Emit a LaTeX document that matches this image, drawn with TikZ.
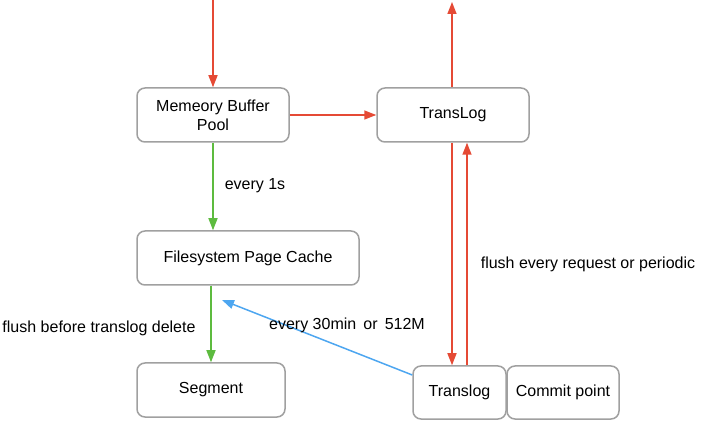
\documentclass[tikz,border=0pt]{standalone}
\usepackage{fontspec}
\setmainfont{Liberation Sans}
\usetikzlibrary{arrows.meta}
\definecolor{boxgray}{HTML}{A0A0A0}
\definecolor{myred}{HTML}{E54A35}
\definecolor{mygreen}{HTML}{5DBB3F}
\definecolor{myblue}{HTML}{4DA6F0}
\tikzset{
  box/.style={draw=boxgray, line width=1.5pt, rounded corners=8pt, fill=white, align=center, inner sep=0pt, font=\fontsize{16}{19}\selectfont},
  lbl/.style={font=\fontsize{16}{19}\selectfont, inner sep=0pt},
  arr/.style={line width=1.5pt, -{Triangle[length=12pt,width=9pt]}},
}
\begin{document}
\begin{tikzpicture}[x=1pt,y=-1pt]
\useasboundingbox (0,0) rectangle (705,422);
\node[box, minimum width=152pt, minimum height=54pt] (mem) at (213,115) {Memeory Buffer\\Pool};
\node[box, minimum width=152pt, minimum height=54pt] (tl) at (453,115) {TransLog};
\node[box, minimum width=222pt, minimum height=54pt] (fs) at (248,258) {Filesystem Page Cache};
\node[box, minimum width=148pt, minimum height=54pt] (seg) at (211,390) {Segment};
\node[box, minimum width=93pt, minimum height=53pt] (tls) at (459.5,392.5) {Translog};
\node[box, minimum width=112pt, minimum height=53pt] (cp) at (563,392.5) {Commit point};
\coordinate (top1) at (213,0);
\coordinate (top2) at (452,2);
\coordinate (bl) at (222,300);
\draw[arr, myred] (top1) -- (mem.north);
\draw[arr, myred] (tl.north -| top2) -- (top2);
\draw[arr, myred] (mem.east) -- (tl.west);
\draw[arr, myred] (tl.south -| 452,0) -- (tls.north -| 452,0);
\draw[arr, myred] (tls.north -| 467,0) -- (tl.south -| 467,0);
\draw[arr, mygreen] (mem.south) -- (fs.north -| mem.south);
\draw[arr, mygreen] (fs.south -| 211,0) -- (seg.north);
\draw[arr, myblue] (tls.west |- 0,375) -- (bl);
\node[lbl] (l1) at (255,186) {every 1s};
\node[lbl] (l2) at (99,328) {flush before translog delete};
\node[lbl] (l3) at (347,325) {every 30min\, or\, 512M};
\node[lbl] (l4) at (588,264) {flush every request or periodic};
\end{tikzpicture}
\end{document}
